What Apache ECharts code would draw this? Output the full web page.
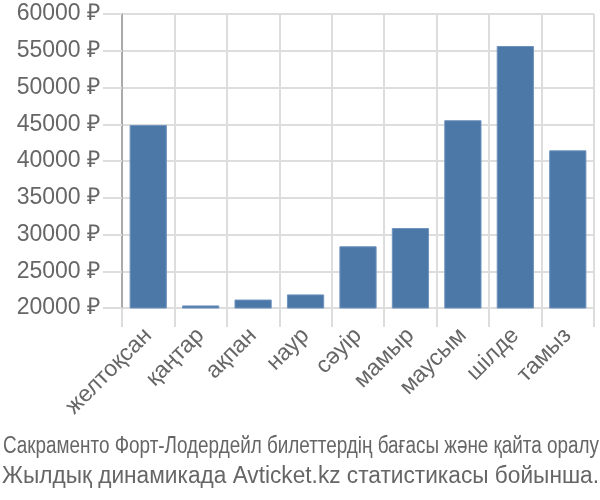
<!DOCTYPE html>
<html>
<head>
<meta charset="utf-8">
<script src="https://cdn.jsdelivr.net/npm/echarts@6/dist/echarts.min.js"></script>
<style>html,body{margin:0;padding:0;background:#fff}#c{width:600px;height:500px}</style>
</head>
<body>
<div id="c"></div>
<script>
const categories = ['желтоқсан', 'қаңтар', 'ақпан', 'наур', 'сәуір', 'мамыр', 'маусым', 'шілде', 'тамыз'];
const prices = [44900, 20350, 21150, 21850, 28400, 30880, 45550, 55650, 41450];
const yTicks = [20000, 25000, 30000, 35000, 40000, 45000, 50000, 55000, 60000];
const titleLine1 = 'Сакраменто Форт-Лодердейл билеттердің бағасы және қайта оралу';
const titleLine2 = 'Жылдық динамикада Avticket.kz статистикасы бойынша.';

function textWidth(str, font) {
  const ctx = document.createElement('canvas').getContext('2d');
  ctx.font = font;
  return ctx.measureText(str).width;
}
const f1 = '23px "Liberation Sans"';
const f2 = '23px "Liberation Sans"';
const s1 = 596 / textWidth(titleLine1, f1);
const s2 = 597 / textWidth(titleLine2, f2);

const chart = echarts.init(document.getElementById('c'), null, {renderer: 'canvas'});
chart.setOption({
  animation: false,
  backgroundColor: '#fff',
  graphic: [
    {type: 'text', x: 3, y: 435, scaleX: s1, silent: true,
     style: {text: titleLine1, font: f1, fill: '#666', verticalAlign: 'top', align: 'left'}},
    {type: 'text', x: 2, y: 465, scaleX: s2, silent: true,
     style: {text: titleLine2, font: f2, fill: '#666', verticalAlign: 'top', align: 'left'}}
  ],
  grid: {left: 122, right: 6, top: 14, bottom: 192, containLabel: false},
  xAxis: {
    type: 'category',
    data: categories,
    boundaryGap: true,
    axisLine: {show: false},
    axisTick: {show: true, length: 19, lineStyle: {color: '#ddd', width: 2}},
    splitLine: {show: true, lineStyle: {color: '#ddd', width: 2}},
    axisLabel: {rotate: 45, interval: 0, margin: 24, fontSize: 23, color: '#666', fontFamily: 'Liberation Sans'}
  },
  yAxis: {
    type: 'value',
    min: yTicks[0],
    max: yTicks[yTicks.length - 1],
    interval: yTicks[1] - yTicks[0],
    axisLine: {show: true, lineStyle: {color: '#aaa', width: 2}},
    axisTick: {show: true, length: 19, lineStyle: {color: '#ddd', width: 2}},
    splitLine: {show: true, lineStyle: {color: '#ddd', width: 2}},
    axisLabel: {margin: 22, fontSize: 23, color: '#666', fontFamily: 'Liberation Sans',
      formatter: v => v + ' ₽'}
  },
  series: [{
    type: 'bar',
    data: prices,
    barCategoryGap: '29%',
    itemStyle: {color: '#4c78a8', borderColor: '#6f93bd', borderWidth: 1}
  }]
});
</script>
</body>
</html>
